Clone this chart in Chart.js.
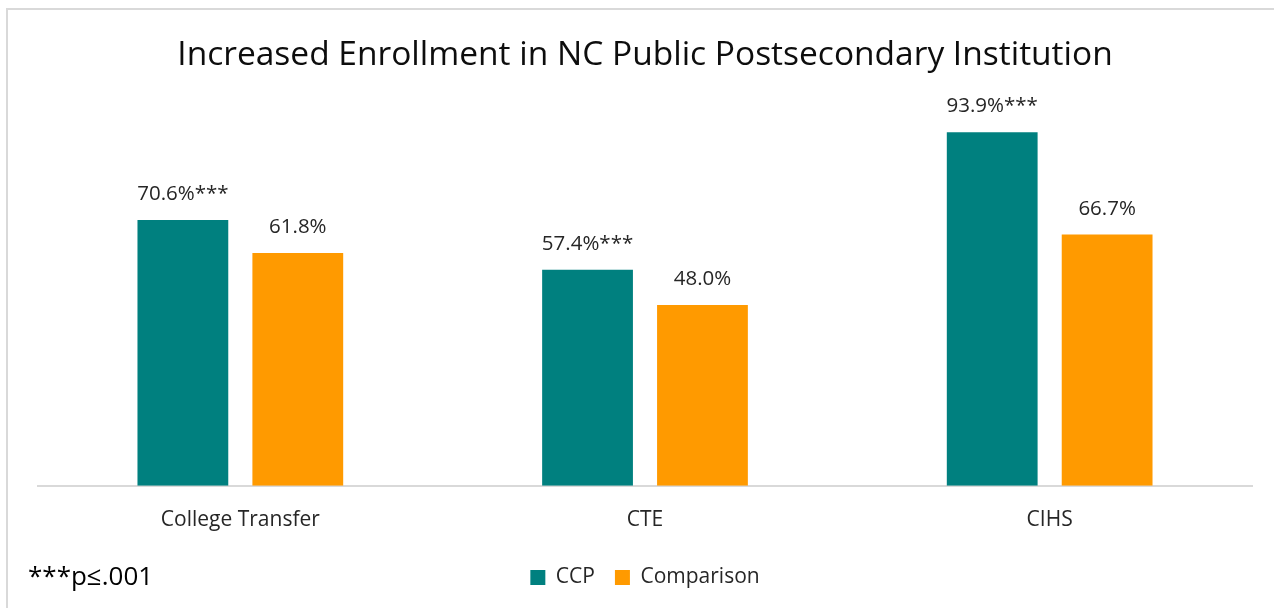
<!DOCTYPE html>
<html>
<head>
<meta charset="utf-8">
<script src="https://cdn.jsdelivr.net/npm/chart.js@4"></script>
<style>
  html, body { margin: 0; padding: 0; background: #fff; }
  #frame {
    position: absolute; left: 6px; top: 8px; width: 1268px; height: 600px;
    border-left: 2px solid #d9d9d9; border-top: 2px solid #d9d9d9;
  }
  #wrap { position: absolute; left: 0; top: 0; width: 1274px; height: 608px; }
  #note {
    position: absolute; left: 28px; top: 557px;
    font-family: "Open Sans", sans-serif; font-size: 26px; color: #000;
  }
</style>
</head>
<body>
<div id="frame"></div>
<div id="wrap"><canvas id="myChart"></canvas></div>
<div id="note">***p≤.001</div>
<script>
const categories = ['College Transfer', 'CTE', 'CIHS'];
const ccpValues = [70.6, 57.4, 93.9];
const comparisonValues = [61.8, 48.0, 66.7];
const ccpLabels = ['70.6%***', '57.4%***', '93.9%***'];
const comparisonLabels = ['61.8%', '48.0%', '66.7%'];

// value labels above each bar
const barLabels = {
    id: 'barLabels',
    afterDatasetsDraw(chart) {
        const ctx = chart.ctx;
        const texts = [ccpLabels, comparisonLabels];
        ctx.save();
        ctx.font = '20.5px "Open Sans", sans-serif';
        ctx.fillStyle = '#262626';
        ctx.textAlign = 'center';
        ctx.textBaseline = 'alphabetic';
        chart.data.datasets.forEach((ds, i) => {
            chart.getDatasetMeta(i).data.forEach((bar, j) => {
                ctx.fillText(texts[i][j], bar.x, bar.y - 20);
            });
        });
        ctx.restore();
    }
};

var ctx = document.getElementById('myChart');
var myChart = new Chart(ctx, {
    type: 'bar',
    data: {
        labels: categories,
        datasets: [{
            label: 'CCP',
            data: ccpValues,
            backgroundColor: '#00807f'
        }, {
            label: 'Comparison',
            data: comparisonValues,
            backgroundColor: '#ff9a00'
        }]
    },
    options: {
        responsive: true,
        maintainAspectRatio: false,
        animation: false,
        datasets: {
            bar: { barPercentage: 0.79, categoryPercentage: 0.568 }
        },
        layout: { padding: { left: 38, right: 22, top: 20, bottom: 10 } },
        plugins: {
            title: {
                display: true,
                text: 'Increased Enrollment in NC Public Postsecondary Institution',
                color: '#0d0d0d',
                font: { family: 'Open Sans', size: 33.5, weight: 'normal' },
                padding: { top: 15, bottom: 34 }
            },
            legend: {
                position: 'bottom',
                labels: {
                    color: '#262626',
                    font: { family: 'Open Sans', size: 21 },
                    boxWidth: 15,
                    boxHeight: 15,
                    padding: 20
                }
            },
            tooltip: { enabled: false }
        },
        scales: {
            x: {
                grid: { display: false },
                border: { color: '#d9d9d9', width: 2 },
                ticks: {
                    color: '#262626',
                    font: { family: 'Open Sans', size: 21 },
                    padding: 14
                }
            },
            y: {
                display: false,
                min: 0,
                max: 100
            }
        }
    },
    plugins: [barLabels]
});
</script>
</body>
</html>
